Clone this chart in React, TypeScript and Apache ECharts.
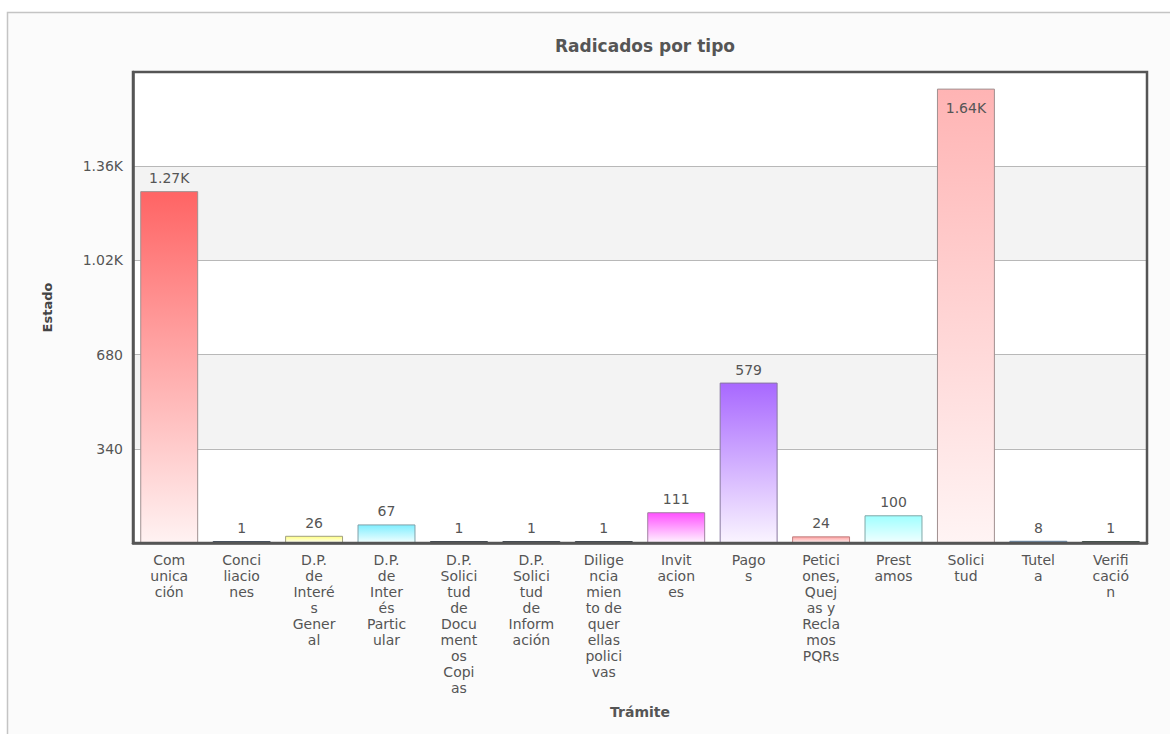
import React, { useEffect, useRef } from "react";
import * as echarts from "echarts";

const categories = [
  "Comunicación",
  "Conciliaciones",
  "D.P. de Interés General",
  "D.P. de Interés Particular",
  "D.P. Solicitud de Documentos Copias",
  "D.P. Solicitud de Información",
  "Diligenciamiento de querellas policivas",
  "Invitaciones",
  "Pagos",
  "Peticiones, Quejas y Reclamos PQRs",
  "Prestamos",
  "Solicitud",
  "Tutela",
  "Verificación",
];

const tickLabels = [
  "Com\nunica\nción",
  "Conci\nliacio\nnes",
  "D.P.\nde\nInteré\ns\nGener\nal",
  "D.P.\nde\nInter\nés\nPartic\nular",
  "D.P.\nSolici\ntud\nde\nDocu\nment\nos\nCopi\nas",
  "D.P.\nSolici\ntud\nde\nInform\nación",
  "Dilige\nncia\nmien\nto de\nquer\nellas\npolici\nvas",
  "Invit\nacion\nes",
  "Pago\ns",
  "Petici\nones,\nQuej\nas y\nRecla\nmos\nPQRs",
  "Prest\namos",
  "Solici\ntud",
  "Tutel\na",
  "Verifi\ncació\nn",
];

const values = [1270, 1, 26, 67, 1, 1, 1, 111, 579, 24, 100, 1640, 8, 1];

const yTickValues = [340, 680, 1020, 1360];

const topColors = [
  "#ff6464", "#556070", "#ffff80", "#80eeff", "#505860", "#505860", "#505860",
  "#ff50ff", "#a868ff", "#ffa0a0", "#a0ffff", "#ffb4b4", "#7890b0", "#506058",
];
const bottomColors = [
  "#fff2f2", "#556070", "#fffff2", "#f0ffff", "#505860", "#505860", "#505860",
  "#fff2ff", "#faf4ff", "#fff0f0", "#f0ffff", "#fff4f4", "#7890b0", "#506058",
];
const borderColors = [
  "#a09090", "#445060", "#a0a080", "#80a0a8", "#404850", "#404850", "#404850",
  "#a080a0", "#8878a0", "#c08080", "#80a8a8", "#a09090", "#6888a8", "#405048",
];

const fmt = (v: number) => (v >= 1000 ? (v / 1000).toFixed(2) + "K" : String(v));

export default function App() {
  const ref = useRef<HTMLDivElement>(null);
  useEffect(() => {
    if (!ref.current) return;
    const chart = echarts.init(ref.current, null, { renderer: "svg" });
    const font = "DejaVu Sans, Verdana, sans-serif";
    const data = values.map((v, i) => ({
      value: v,
      itemStyle: {
        color: new echarts.graphic.LinearGradient(0, 0, 0, 1, [
          { offset: 0, color: topColors[i] },
          { offset: 1, color: bottomColors[i] },
        ]),
        borderColor: borderColors[i],
        borderWidth: 1,
      },
      label:
        v > 1500
          ? { position: "insideTop", distance: 12 }
          : undefined,
    }));
    chart.setOption({
      animation: false,
      backgroundColor: "#ffffff",
      textStyle: { fontFamily: font },
      graphic: [
        {
          type: "rect",
          z: -10,
          silent: true,
          shape: { x: 7.5, y: 12.5, width: 1200, height: 800 },
          style: { fill: "#fbfbfb", stroke: "#c4c4c4", lineWidth: 1.5 },
        },
      ],
      title: {
        text: "Radicados por tipo",
        left: 640,
        top: 32,
        textAlign: "center",
        textStyle: { fontFamily: font, fontSize: 17, fontWeight: "bold", color: "#555555" },
      },
      grid: {
        left: 133,
        top: 72,
        right: 23,
        bottom: 191,
        show: true,
        backgroundColor: "transparent",
        borderColor: "#555555",
        borderWidth: 2.5,
        z: 5,
      },
      xAxis: {
        type: "category",
        data: categories,
        name: "Trámite",
        nameLocation: "middle",
        nameGap: 162,
        nameTextStyle: { fontFamily: font, fontSize: 14, fontWeight: "bold", color: "#555555" },
        axisLine: { show: true, lineStyle: { color: "#555555", width: 2.5 } },
        axisTick: { show: false },
        axisLabel: {
          interval: 0,
          margin: 9,
          fontFamily: font,
          fontSize: 14,
          lineHeight: 16,
          color: "#555555",
          align: "center",
          verticalAlign: "top",
          formatter: (_v: string, i: number) => tickLabels[i],
        },
      },
      yAxis: {
        type: "value",
        min: 0,
        max: 1700,
        interval: 340,
        name: "Estado",
        nameLocation: "middle",
        nameGap: 79,
        nameRotate: 90,
        nameTextStyle: { fontFamily: font, fontSize: 13, fontWeight: "bold", color: "#444444" },
        axisLine: { show: true, lineStyle: { color: "#555555", width: 2.5 } },
        axisTick: { show: false },
        axisLabel: {
          margin: 10,
          fontFamily: font,
          fontSize: 14,
          color: "#555555",
          formatter: (v: number) => (yTickValues.includes(v) ? fmt(v) : ""),
        },
        splitLine: { show: true, lineStyle: { color: "#b8b8b8", width: 1 } },
        splitArea: { show: true, areaStyle: { color: ["#ffffff", "#f3f3f3"] } },
      },
      series: [
        {
          type: "bar",
          data,
          barCategoryGap: "20%",
          barMinHeight: 2,
          label: {
            show: true,
            position: "top",
            distance: 6,
            fontFamily: font,
            fontSize: 14,
            color: "#555555",
            formatter: (p: any) => fmt(p.value),
          },
        },
      ],
    });
    return () => chart.dispose();
  }, []);
  return (
    <div
      ref={ref}
      style={{ position: "fixed", left: 0, top: 0, width: 1170, height: 734 }}
    />
  );
}
